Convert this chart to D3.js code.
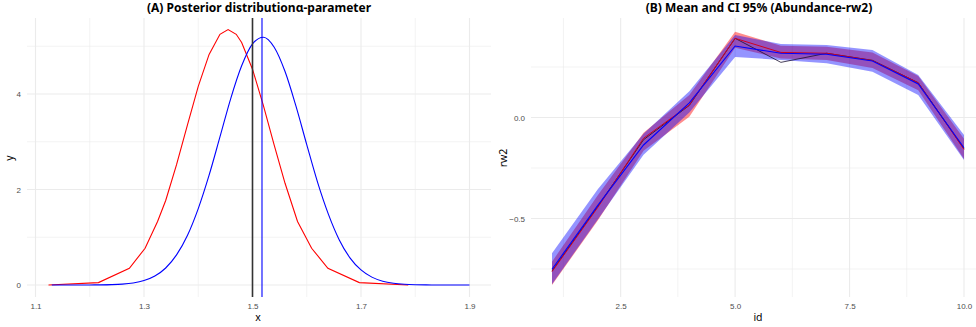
<!DOCTYPE html>
<html>
<head>
<meta charset="utf-8">
<script src="https://cdn.jsdelivr.net/npm/d3@7"></script>
<style>
  body { margin: 0; background: #fff; }
  svg { font-family: "Noto Sans", "Open Sans", sans-serif; }
  .tick text { fill: #4d4d4d; font-size: 8px; }
  .axis-title { font-size: 10.5px; fill: #000; }
  .title { font-size: 12px; font-weight: bold; fill: #000; }
</style>
</head>
<body>
<svg id="chart" width="976" height="327"></svg>
<script>
// panel A: posterior densities
var redX = [1.124, 1.216, 1.273, 1.302, 1.325, 1.34, 1.36, 1.38, 1.40, 1.42, 1.44, 1.455, 1.47, 1.48, 1.50, 1.52, 1.54, 1.56, 1.583, 1.609, 1.639, 1.697, 1.787];
var redY = [0.001, 0.05, 0.35, 0.77, 1.33, 1.77, 2.52, 3.35, 4.16, 4.83, 5.25, 5.35, 5.25, 5.08, 4.52, 3.76, 2.93, 2.13, 1.33, 0.77, 0.35, 0.05, 0.001];

var blueX = [1.13, 1.16, 1.18, 1.20, 1.22, 1.24, 1.26, 1.28, 1.30, 1.32, 1.34, 1.36, 1.38, 1.40, 1.42, 1.44, 1.46, 1.48, 1.50, 1.52,
  1.54, 1.56, 1.58, 1.60, 1.62, 1.64, 1.66, 1.68, 1.70, 1.72, 1.74, 1.76, 1.78, 1.80, 1.82, 1.84, 1.86, 1.88, 1.90];
var blueY = [0, 0.0001, 0.0003, 0.001, 0.003, 0.008, 0.019, 0.043, 0.093, 0.188, 0.356, 0.63, 1.036, 1.60, 2.30, 3.10, 3.91, 4.59, 5.05, 5.19,
  4.98, 4.47, 3.75, 2.94, 2.15, 1.48, 0.944, 0.564, 0.315, 0.165, 0.080, 0.037, 0.016, 0.006, 0.002, 0.001, 0, 0, 0];

var vlineBlack = 1.5;
var vlineBlue = 1.5175;

var xTicksA = [1.1, 1.3, 1.5, 1.7, 1.9];
var xMinorA = [1.2, 1.4, 1.6, 1.8];
var yTicksA = [0, 2, 4];
var yMinorA = [1, 3, 5];

// panel B: rw2 effect, mean and 95% CI
var ids = [1, 2, 3, 4, 5, 6, 7, 8, 9, 10];
var redMean = [-0.763, -0.445, -0.103, 0.062, 0.392, 0.322, 0.318, 0.282, 0.172, -0.158];
var redLo = [-0.829, -0.51, -0.165, 0.004, 0.345, 0.292, 0.285, 0.245, 0.135, -0.205];
var redHi = [-0.714, -0.385, -0.075, 0.112, 0.425, 0.355, 0.350, 0.322, 0.205, -0.105];
var blueMean = [-0.751, -0.435, -0.136, 0.072, 0.354, 0.318, 0.313, 0.280, 0.166, -0.150];
var blueLo = [-0.825, -0.505, -0.185, 0.025, 0.300, 0.285, 0.268, 0.227, 0.111, -0.210];
var blueHi = [-0.672, -0.355, -0.080, 0.130, 0.408, 0.364, 0.359, 0.334, 0.210, -0.087];
var obs = [-0.760, -0.440, -0.110, 0.060, 0.392, 0.273, 0.318, 0.283, 0.172, -0.155];

var xTicksB = [2.5, 5.0, 7.5, 10.0];
var xMinorB = [1.25, 3.75, 6.25, 8.75];
var yTicksB = [-0.5, 0.0];
var yMinorB = [-0.75, -0.25, 0.25];

var svg = d3.select("#chart");

var panelA = { left: 27, right: 491, top: 18, bottom: 297 };
var panelB = { left: 531, right: 985, top: 18, bottom: 297 };

var xA = d3.scaleLinear().domain([1.1, 1.9]).range([35.5, 469.5]);
var yA = d3.scaleLinear().domain([0, 4]).range([285, 94]);
var xB = d3.scaleLinear().domain([1, 10]).range([552, 964]);
var yB = d3.scaleLinear().domain([-0.5, 0]).range([218.5, 117.5]);

function drawGrid(p, x, y, xMaj, xMin, yMaj, yMin) {
  var g = svg.append("g");
  xMin.forEach(function(v) {
    g.append("line").attr("x1", x(v)).attr("x2", x(v)).attr("y1", p.top).attr("y2", p.bottom)
      .attr("stroke", "#ebebeb").attr("stroke-width", 0.6);
  });
  yMin.forEach(function(v) {
    g.append("line").attr("x1", p.left).attr("x2", p.right).attr("y1", y(v)).attr("y2", y(v))
      .attr("stroke", "#ebebeb").attr("stroke-width", 0.6);
  });
  xMaj.forEach(function(v) {
    g.append("line").attr("x1", x(v)).attr("x2", x(v)).attr("y1", p.top).attr("y2", p.bottom)
      .attr("stroke", "#ebebeb").attr("stroke-width", 1.1);
  });
  yMaj.forEach(function(v) {
    g.append("line").attr("x1", p.left).attr("x2", p.right).attr("y1", y(v)).attr("y2", y(v))
      .attr("stroke", "#ebebeb").attr("stroke-width", 1.1);
  });
}

drawGrid(panelA, xA, yA, xTicksA, xMinorA, yTicksA, yMinorA);
drawGrid(panelB, xB, yB, xTicksB, xMinorB, yTicksB, yMinorB);

// axes (labels only)
svg.append("g")
  .attr("transform", `translate(0, ${panelA.bottom + 3})`)
  .call(d3.axisBottom(xA).tickValues(xTicksA).tickSize(0).tickFormat(d3.format(".1f")))
  .call(g => g.select(".domain").remove());
svg.append("g")
  .attr("transform", `translate(${panelA.left - 3}, 0)`)
  .call(d3.axisLeft(yA).tickValues(yTicksA).tickSize(0).tickFormat(d3.format("d")))
  .call(g => g.select(".domain").remove());
svg.append("g")
  .attr("transform", `translate(0, ${panelB.bottom + 3})`)
  .call(d3.axisBottom(xB).tickValues(xTicksB).tickSize(0).tickFormat(d3.format(".1f")))
  .call(g => g.select(".domain").remove());
svg.append("g")
  .attr("transform", `translate(${panelB.left - 3}, 0)`)
  .call(d3.axisLeft(yB).tickValues(yTicksB).tickSize(0).tickFormat(d3.format(".1f")))
  .call(g => g.select(".domain").remove());

// panel A lines
var lineA = d3.line().x(d => xA(d[0])).y(d => yA(d[1]));
var smoothA = d3.line().curve(d3.curveMonotoneX).x(d => xA(d[0])).y(d => yA(d[1]));
svg.append("path")
  .attr("d", lineA(redX.map((v, i) => [v, redY[i]])))
  .attr("fill", "none").attr("stroke", "red").attr("stroke-width", 1.1);
svg.append("path")
  .attr("d", smoothA(blueX.map((v, i) => [v, blueY[i]])))
  .attr("fill", "none").attr("stroke", "blue").attr("stroke-width", 1.1);

svg.append("line")
  .attr("x1", xA(vlineBlack)).attr("x2", xA(vlineBlack))
  .attr("y1", panelA.top).attr("y2", panelA.bottom)
  .attr("stroke", "#333").attr("stroke-width", 1.6);
svg.append("line")
  .attr("x1", xA(vlineBlue)).attr("x2", xA(vlineBlue))
  .attr("y1", panelA.top).attr("y2", panelA.bottom)
  .attr("stroke", "blue").attr("stroke-width", 1.1);

// panel B ribbons and lines
var area = d3.area().x((d, i) => xB(ids[i])).y0(d => yB(d[0])).y1(d => yB(d[1]));
var lineB = d3.line().x((d, i) => xB(ids[i])).y(d => yB(d));

svg.append("path")
  .attr("d", area(redLo.map((v, i) => [v, redHi[i]])))
  .attr("fill", "red").attr("fill-opacity", 0.45);
svg.append("path")
  .attr("d", area(blueLo.map((v, i) => [v, blueHi[i]])))
  .attr("fill", "blue").attr("fill-opacity", 0.42);

svg.append("path").attr("d", lineB(obs))
  .attr("fill", "none").attr("stroke", "#1a1030").attr("stroke-width", 0.8);
svg.append("path").attr("d", lineB(redMean))
  .attr("fill", "none").attr("stroke", "#d00020").attr("stroke-width", 1);
svg.append("path").attr("d", lineB(blueMean))
  .attr("fill", "none").attr("stroke", "blue").attr("stroke-width", 1.1);

// titles
svg.append("text").attr("class", "title")
  .attr("x", (panelA.left + panelA.right) / 2).attr("y", 12)
  .attr("text-anchor", "middle")
  .text("(A) Posterior distributionα-parameter");
svg.append("text").attr("class", "title")
  .attr("x", 759).attr("y", 12)
  .attr("text-anchor", "middle")
  .text("(B) Mean and CI 95% (Abundance-rw2)");

svg.append("text").attr("class", "axis-title")
  .attr("x", 258).attr("y", 321).attr("text-anchor", "middle").text("x");
svg.append("text").attr("class", "axis-title")
  .attr("transform", "translate(13, 158) rotate(-90)").attr("text-anchor", "middle").text("y");
svg.append("text").attr("class", "axis-title")
  .attr("x", 758).attr("y", 321).attr("text-anchor", "middle").text("id");
svg.append("text").attr("class", "axis-title")
  .attr("transform", "translate(507, 158) rotate(-90)").attr("text-anchor", "middle").text("rw2");
</script>
</body>
</html>
